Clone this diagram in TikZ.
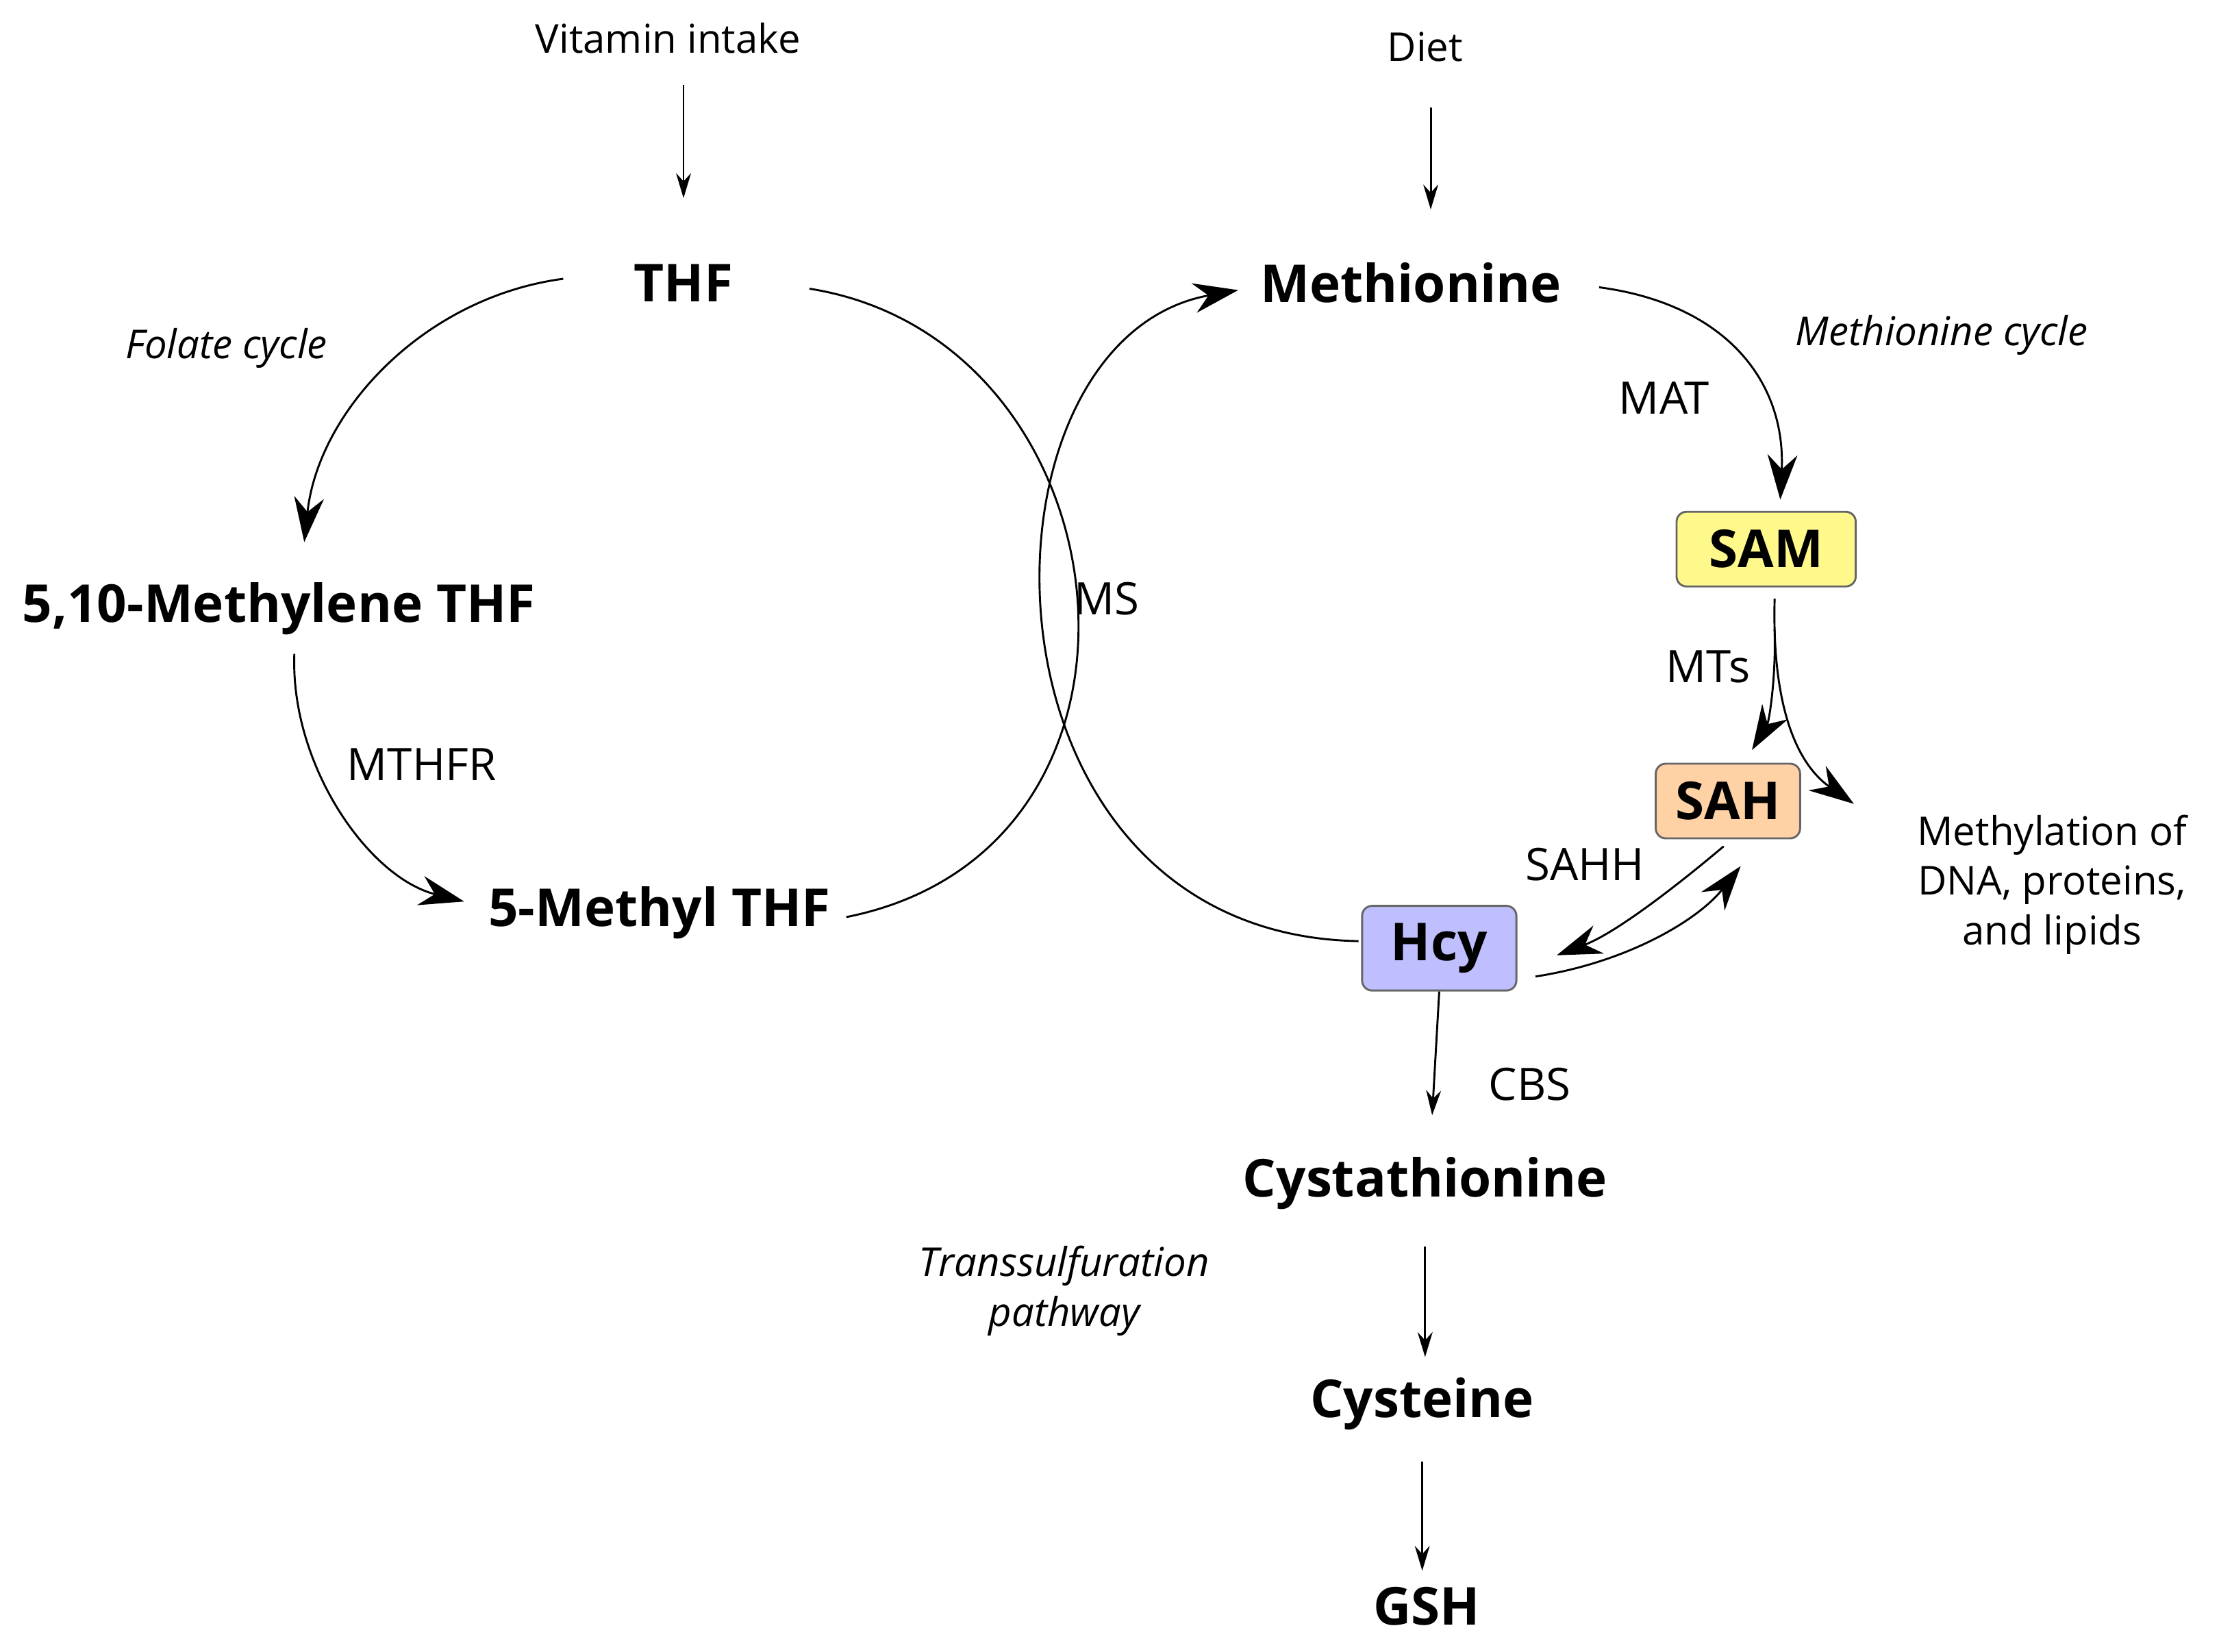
\documentclass[tikz,border=0pt]{standalone}
\usepackage{fontspec}
\setmainfont{Open Sans}
\usetikzlibrary{arrows.meta}
\begin{document}
\begin{tikzpicture}[x=0.01cm,y=-0.01cm,
 met/.style={font=\fontsize{10.5}{12}\selectfont\bfseries},
 lbl/.style={font=\fontsize{9}{11}\selectfont},
 small/.style={font=\fontsize{8}{10}\selectfont},
 note/.style={font=\fontsize{8}{10}\selectfont\itshape},
 box/.style={draw=black!60,rounded corners=2pt,minimum height=15pt,font=\fontsize{10.5}{12}\selectfont\bfseries},
 thin/.style={-{Stealth[length=5pt,width=3pt]}},
 big/.style={-{Stealth[length=9pt,width=6pt]}}]
 \useasboundingbox (0,0) rectangle (1568,1167);

 %inputs
 \node[small] (vit) at (472,27) {Vitamin intake};
 \node[small] (diet) at (1007,33) {Diet};

 %metabolites
 \node[met] (thf) at (483,200) {THF};
 \node[met] (meth) at (997,200) {Methionine};
 \node[met] (mthf) at (197,430) {5,10-Methylene THF};
 \node[met] (five) at (466,645) {5-Methyl THF};
 \node[met] (cysta) at (1007,836) {Cystathionine};
 \node[met] (cys) at (1005,992) {Cysteine};
 \node[met] (gsh) at (1008,1135) {GSH};

 %boxed metabolites
 \node[box,fill=yellow!45,minimum width=36pt] (sam) at (1248,388) {SAM};
 \node[box,fill=orange!35,minimum width=29pt] (sah) at (1221,566) {SAH};
 \node[box,fill=blue!25,minimum width=31pt,minimum height=17pt] (hcy) at (1017,670) {Hcy};

 %enzymes and notes
 \node[note] (fol) at (160,246) {Folate cycle};
 \node[note] (mcyc) at (1372,237) {Methionine cycle};
 \node[note,align=center] (trans) at (752,912) {Transsulfuration\\pathway};
 \node[lbl] (mthfr) at (298,540) {MTHFR};
 \node[lbl] (ms) at (782,423) {MS};
 \node[lbl] (mat) at (1176,281) {MAT};
 \node[lbl] (mts) at (1207,471) {MTs};
 \node[lbl] (sahh) at (1120,611) {SAHH};
 \node[lbl] (cbs) at (1081,766) {CBS};
 \node[small,align=center] (methyl) at (1450,625) {Methylation of\\DNA, proteins,\\and lipids};

 %named ends
 \coordinate (vitE) at (483,140);
 \coordinate (dietE) at (1011,148);
 \coordinate (hcyE) at (1012,788);

 %straight arrows
 \draw[thin] (vit.south) ++(11,10) -- (vitE);
 \draw[thin] (diet.south) ++(4,20) -- (dietE);
 \draw[thin] (hcy.south) -- (hcyE);
 \draw[thin] (cysta.south) ++(0,14) -- ++(0,78);
 \draw[thin] (cys.south) ++(0,10) -- ++(0,77);

 %folate cycle
 \draw[big] (398,197) .. controls (300,210) and (225,290) .. (215,383);
 \draw[big] (208,462) .. controls (205,540) and (260,620) .. (328,637);
 \draw (598,648) .. controls (840,600) and (800,240) .. (572,204);

 %methionine cycle
 \draw[big] (960,665) .. controls (680,660) and (680,240) .. (875,205);
 \draw[big] (1130,203) .. controls (1220,215) and (1262,270) .. (1258,353);
 \draw[big] (sam.south) ++(6,8) .. controls (1252,500) and (1270,540) .. (1310,568);
 \draw[big] (sam.south) ++(6,30) .. controls (1255,480) and (1250,510) .. (1238,530);
 \draw[big] (1085,690) .. controls (1150,680) and (1200,650) .. (1230,612);
 \draw[big] (1218,598) .. controls (1180,630) and (1140,660) .. (1100,675);
\end{tikzpicture}
\end{document}
